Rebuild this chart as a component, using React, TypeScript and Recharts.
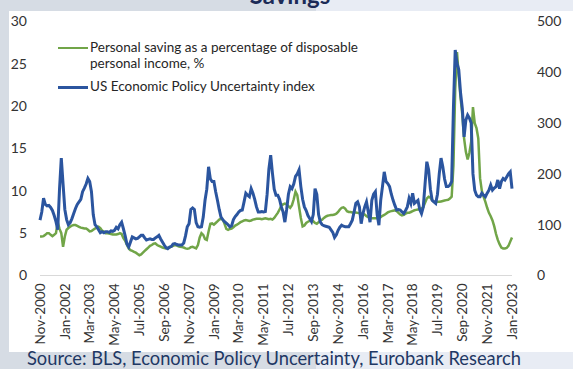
import React from "react";
import { Line, LineChart, XAxis, YAxis } from "recharts";

const monthNames = ["Jan", "Feb", "Mar", "Apr", "May", "Jun", "Jul", "Aug", "Sep", "Oct", "Nov", "Dec"];

// Nov-2000 .. Jan-2023, monthly
const months: string[] = [];
for (let i = 0; i < 267; i++) {
    const m = (10 + i) % 12;
    const y = 2000 + Math.floor((10 + i) / 12);
    months.push(`${monthNames[m]}-${y}`);
}

const xTicks = [
    "Nov-2000", "Jan-2002", "Mar-2003", "May-2004", "Jul-2005", "Sep-2006", "Nov-2007",
    "Jan-2009", "Mar-2010", "May-2011", "Jul-2012", "Sep-2013", "Nov-2014", "Jan-2016",
    "Mar-2017", "May-2018", "Jul-2019", "Sep-2020", "Nov-2021", "Jan-2023",
];

const leftTicks = [0, 5, 10, 15, 20, 25, 30];
const rightTicks = [0, 100, 200, 300, 400, 500];

// personal saving rate, % of disposable income
const savings = [
    4.6, 4.6,
    4.65, 4.8, 5.0, 5.0, 4.8, 4.65, 4.8, 5.0, 6.3, 5.5, 5.0, 3.4,
    4.6, 5.4, 5.6, 5.75, 5.9, 5.95, 5.95, 5.85, 5.75, 5.65, 5.6, 5.55,
    5.55, 5.4, 5.2, 5.25, 5.4, 5.55, 5.65, 5.75, 5.6, 5.3, 5.2, 5.0,
    5.0, 4.95, 4.9, 4.85, 4.85, 4.85, 4.9, 5.0, 4.9, 4.4, 4.1, 3.6,
    3.2, 3.0, 2.9, 2.8, 2.7, 2.55, 2.4, 2.5, 2.7, 2.9, 3.1, 3.3,
    3.5, 3.6, 3.75, 3.8, 3.6, 3.5, 3.4, 3.3, 3.25, 3.2, 3.25, 3.3,
    3.4, 3.5, 3.6, 3.55, 3.45, 3.4, 3.35, 3.3, 3.2, 3.15, 3.2, 3.35,
    3.4, 3.3, 3.2, 3.6, 4.5, 5.0, 4.8, 4.3, 4.2, 5.2, 6.1, 6.15,
    6.0, 6.2, 6.4, 6.6, 6.7, 6.6, 6.1, 5.5, 5.4, 5.5, 5.55, 5.7,
    5.9, 6.0, 6.15, 6.3, 6.4, 6.5, 6.55, 6.5, 6.45, 6.5, 6.6, 6.65,
    6.7, 6.7, 6.7, 6.65, 6.7, 6.75, 6.7, 6.65, 6.7, 6.6, 6.8, 7.1,
    7.4, 7.8, 8.2, 8.4, 8.5, 8.4, 8.2, 8.0, 8.3, 9.0, 9.9, 9.5,
    8.1, 6.8, 5.8, 5.9, 6.2, 6.35, 6.45, 6.55, 6.4, 6.2, 6.1, 6.3,
    6.5, 6.6, 6.8, 6.95, 7.05, 7.1, 7.15, 7.15, 7.2, 7.3, 7.5, 7.8,
    8.0, 8.05, 7.9, 7.6, 7.5, 7.5, 7.45, 7.45, 7.45, 7.4, 7.35, 7.3,
    7.3, 7.2, 7.0, 6.9, 6.8, 6.75, 6.75, 6.75, 6.75, 6.8, 6.9, 7.05,
    7.15, 7.3, 7.45, 7.55, 7.6, 7.65, 7.7, 7.6, 7.4, 7.2, 7.1, 7.15,
    7.3, 7.4, 7.4, 7.5, 7.6, 7.7, 7.75, 7.8, 7.85, 7.9, 8.1, 8.6,
    9.1, 9.3, 9.2, 8.9, 8.7, 8.65, 8.7, 8.7, 8.75, 8.8, 8.85, 8.9,
    8.95, 9.1, 9.3, 13.0, 22.0, 26.4, 23.5, 21.0, 19.0, 16.2, 14.6, 13.7,
    14.5, 15.8, 19.9, 18.0, 17.4, 16.2, 11.5, 10.0, 9.3, 8.7, 8.0, 7.4,
    7.0, 6.5, 5.8, 4.9, 4.2, 3.7, 3.3, 3.2, 3.2, 3.25, 3.5, 4.0,
    4.5,
];

// US economic policy uncertainty index
const epu = [
    109, 125,
    152, 140, 137, 138, 134, 128, 118, 106, 90, 170, 231, 180,
    130, 110, 100, 104, 112, 122, 132, 140, 145, 150, 165, 172,
    180, 191, 185, 165, 120, 100, 96, 90, 84, 86, 84, 86,
    86, 85, 88, 87, 89, 95, 92, 100, 105, 92, 78, 62,
    56, 66, 76, 74, 72, 73, 76, 79, 79, 74, 70, 71,
    72, 71, 71, 74, 76, 79, 72, 66, 60, 55, 53, 56,
    57, 62, 63, 61, 60, 60, 60, 64, 78, 96, 102, 130,
    133, 130, 104, 96, 95, 96, 115, 148, 170, 214, 190, 185,
    185, 165, 148, 130, 115, 110, 106, 103, 100, 96, 98, 110,
    116, 120, 125, 128, 129, 145, 162, 158, 155, 171, 162, 150,
    135, 125, 125, 126, 125, 126, 160, 210, 237, 201, 170, 158,
    158, 150, 135, 125, 105, 130, 160, 175, 171, 180, 195, 200,
    208, 175, 150, 135, 128, 118, 112, 106, 120, 171, 160, 120,
    105, 100, 98, 97, 96, 95, 90, 85, 75, 80, 89, 95,
    99, 97, 96, 96, 96, 102, 109, 125, 142, 145, 135, 102,
    122, 135, 145, 125, 105, 148, 160, 165, 120, 99, 148, 175,
    204, 185, 181, 175, 160, 148, 138, 129, 130, 129, 125, 122,
    128, 135, 152, 142, 162, 142, 145, 148, 130, 122, 135, 180,
    224, 208, 170, 148, 145, 142, 160, 200, 231, 214, 190, 175,
    175, 178, 185, 330, 444, 418, 405, 360, 329, 273, 306, 316,
    310, 300, 200, 168, 158, 155, 155, 162, 158, 155, 162, 168,
    178, 168, 172, 175, 188, 171, 185, 191, 188, 194, 200, 204,
    171,
];

const data = months.map((month, i) => ({ month, savings: savings[i], epu: epu[i] }));

const GREEN = "#71a548";
const BLUE = "#2b559f";
const FONT = "Lato, 'Noto Sans', sans-serif";

const XTick = (props: any) => {
    const { x, y, payload } = props;
    return (
        <text
            x={0}
            y={0}
            dy="0.35em"
            textAnchor="end"
            fontSize={13.5}
            fontFamily={FONT}
            fill="#333"
            transform={`translate(${x},${y}) rotate(-90)`}
        >
            {payload.value}
        </text>
    );
};

const App = () => {
    return (
        <div style={{ position: "absolute", left: 0, top: 0, width: 573, height: 369, overflow: "hidden", background: "#e8ecf4" }}>
            <div style={{ position: "absolute", left: 0, top: 0, width: 316, height: 369, background: "#d6dce4" }} />
            <div style={{ position: "absolute", left: 9, top: 11, width: 564, height: 341, background: "#ffffff" }} />
            <div
                style={{
                    position: "absolute", left: 0, width: 580, top: -17, textAlign: "center",
                    fontFamily: FONT, fontWeight: 700, fontSize: 24, lineHeight: "24px", color: "#1c2b57",
                }}
            >
                Savings
            </div>
            <div style={{ position: "absolute", left: 0, top: 0 }}>
                <LineChart width={573} height={352} data={data} margin={{ top: 21.5, right: 0, left: 0, bottom: 0 }}>
                    <XAxis
                        dataKey="month"
                        ticks={xTicks}
                        interval={0}
                        height={76.5}
                        tickLine={false}
                        axisLine={{ stroke: "#d9d9d9" }}
                        tick={<XTick />}
                    />
                    <YAxis
                        yAxisId="left"
                        domain={[0, 30]}
                        ticks={leftTicks}
                        width={40}
                        tickLine={false}
                        axisLine={false}
                        tickMargin={7}
                        tick={{ fontSize: 14, fontFamily: FONT, fill: "#333" }}
                    />
                    <YAxis
                        yAxisId="right"
                        orientation="right"
                        domain={[0, 500]}
                        ticks={rightTicks}
                        width={61}
                        tickLine={false}
                        axisLine={false}
                        tickMargin={19}
                        tick={{ fontSize: 14, fontFamily: FONT, fill: "#333", textAnchor: "start" }}
                    />
                    <Line
                        yAxisId="left"
                        dataKey="savings"
                        stroke={GREEN}
                        strokeWidth={2.5}
                        dot={false}
                        isAnimationActive={false}
                    />
                    <Line
                        yAxisId="right"
                        dataKey="epu"
                        stroke={BLUE}
                        strokeWidth={3}
                        dot={false}
                        isAnimationActive={false}
                    />
                </LineChart>
            </div>
            <div style={{ position: "absolute", left: 58, top: 40, fontFamily: FONT, fontSize: 13.5, color: "#262626", lineHeight: "15.6px" }}>
                <div style={{ display: "flex", alignItems: "flex-start" }}>
                    <div style={{ width: 30, height: 2.5, background: GREEN, marginTop: 6.5, marginRight: 2 }} />
                    <div>
                        Personal saving as a percentage of disposable
                        <br />
                        personal income, %
                    </div>
                </div>
                <div style={{ display: "flex", alignItems: "flex-start", marginTop: 8 }}>
                    <div style={{ width: 30, height: 3, background: BLUE, marginTop: 6.5, marginRight: 2 }} />
                    <div>US Economic Policy Uncertainty index</div>
                </div>
            </div>
            <div
                style={{
                    position: "absolute", left: 27, top: 348, fontFamily: FONT, fontSize: 18.3,
                    lineHeight: "20px", color: "#1f3864", whiteSpace: "nowrap",
                }}
            >
                Source: BLS, Economic Policy Uncertainty, Eurobank Research
            </div>
        </div>
    );
};

export default App;
